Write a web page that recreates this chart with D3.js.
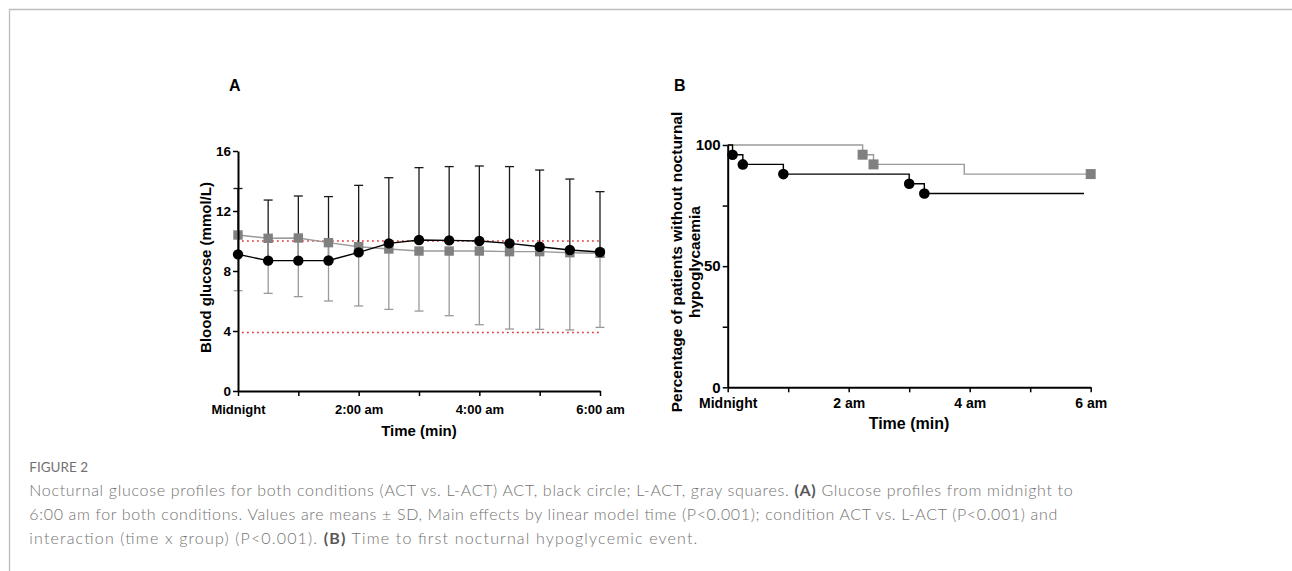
<!DOCTYPE html>
<html>
<head>
<meta charset="utf-8">
<script src="https://cdn.jsdelivr.net/npm/d3@7/dist/d3.min.js"></script>
<style>
  body { margin: 0; background: #fff; }
  .ejes path, .ejes line { stroke: #000; }
  .pie { font-family: Lato, "Open Sans", sans-serif; fill: #727272; font-weight: 300; }
</style>
</head>
<body>
<div id="dvBody"></div>
<script>
//datos panel A: media y extremo de la barra de error (mmol/L)
var horas = [0, 0.5, 1, 1.5, 2, 2.5, 3, 3.5, 4, 4.5, 5, 5.5, 6];
var actMedia = [9.11, 8.69, 8.69, 8.70, 9.24, 9.84, 10.07, 10.04, 10.0, 9.84, 9.62, 9.40, 9.27];
var actSuperior = [13.5, 12.73, 13.0, 12.96, 13.71, 14.22, 14.89, 14.96, 15.0, 14.96, 14.73, 14.13, 13.29];
var lactMedia = [10.4, 10.18, 10.2, 9.89, 9.62, 9.47, 9.33, 9.33, 9.33, 9.29, 9.29, 9.22, 9.18];
var lactInferior = [6.69, 6.51, 6.29, 6.0, 5.67, 5.44, 5.33, 5.02, 4.42, 4.13, 4.11, 4.07, 4.24];
var limites = [10, 3.9];

var ticksA = [0, 1, 2, 3, 4, 5, 6];
var etiquetasA = ["Midnight", "", "2:00 am", "", "4:00 am", "", "6:00 am"];
var ticksYA = [0, 4, 8, 12, 16];

//datos panel B: curvas de Kaplan-Meier (% sin hipoglucemia)
var kmActTiempo = [0, 0.08, 0.25, 0.92, 3.0, 3.25, 5.89];
var kmActValor = [100, 96, 92, 88, 84, 80, 80];
var kmLactTiempo = [0, 2.23, 2.41, 3.91, 6.0];
var kmLactValor = [100, 96, 92, 88, 88];
var marcasActTiempo = [0.08, 0.25, 0.92, 3.0, 3.25];
var marcasActValor = [96, 92, 88, 84, 80];
var marcasLactTiempo = [2.23, 2.41, 6.0];
var marcasLactValor = [96, 92, 88];

var ticksB = [0, 1, 2, 3, 4, 5, 6];
var etiquetasB = ["Midnight", "", "2 am", "", "4 am", "", "6 am"];
var ticksYB = [0, 25, 50, 75, 100];
var etiquetasYB = ["0", "", "50", "", "100"];

var fuente = "Arial, 'Liberation Sans', sans-serif";

var svg = d3.select("#dvBody")
  .append("svg")
  .attr("width", 1292)
  .attr("height", 571);

//marco gris de la figura
svg.append("path")
  .attr("d", "M9.5,571V9.5H1292")
  .attr("fill", "none")
  .attr("stroke", "#bdbdbd")
  .attr("stroke-width", 1.3);

//************* Panel A ******************/
var xA = d3.scaleLinear().domain([0, 6]).range([238, 600]);
var yA = d3.scaleLinear().domain([0, 16]).range([391, 151]);

//lineas de referencia rojas
svg.append("g")
  .selectAll("line")
  .data(limites)
  .join("line")
  .attr("x1", xA(0) + 4)
  .attr("x2", xA(6))
  .attr("y1", d => yA(d))
  .attr("y2", d => yA(d))
  .attr("stroke", "#e8393a")
  .attr("stroke-width", 1.6)
  .attr("stroke-dasharray", "1.8,3.2");

var datosA = horas.map(function(h, i) {
  return { h: h, act: actMedia[i], sup: actSuperior[i], lact: lactMedia[i], inf: lactInferior[i] };
});

//barras de error ACT (hacia arriba)
var errAct = svg.append("g").attr("stroke", "#1a1a1a").attr("stroke-width", 1.3);
errAct.selectAll(".v").data(datosA).join("line")
  .attr("x1", d => xA(d.h)).attr("x2", d => xA(d.h))
  .attr("y1", d => yA(d.act)).attr("y2", d => yA(d.sup));
errAct.selectAll(".c").data(datosA).join("line")
  .attr("x1", d => xA(d.h) - 4.5).attr("x2", d => xA(d.h) + 4.5)
  .attr("y1", d => yA(d.sup)).attr("y2", d => yA(d.sup));

//barras de error L-ACT (hacia abajo)
var errLact = svg.append("g").attr("stroke", "#9a9a9a").attr("stroke-width", 1.3);
errLact.selectAll(".v").data(datosA).join("line")
  .attr("x1", d => xA(d.h)).attr("x2", d => xA(d.h))
  .attr("y1", d => yA(d.lact)).attr("y2", d => yA(d.inf));
errLact.selectAll(".c").data(datosA).join("line")
  .attr("x1", d => xA(d.h) - 4.5).attr("x2", d => xA(d.h) + 4.5)
  .attr("y1", d => yA(d.inf)).attr("y2", d => yA(d.inf));

//lineas de medias
svg.append("path")
  .datum(datosA)
  .attr("fill", "none")
  .attr("stroke", "#9a9a9a")
  .attr("stroke-width", 1.4)
  .attr("d", d3.line().x(d => xA(d.h)).y(d => yA(d.lact)));

svg.append("path")
  .datum(datosA)
  .attr("fill", "none")
  .attr("stroke", "#000")
  .attr("stroke-width", 1.4)
  .attr("d", d3.line().x(d => xA(d.h)).y(d => yA(d.act)));

svg.append("g")
  .selectAll("rect")
  .data(datosA)
  .join("rect")
  .attr("x", d => xA(d.h) - 4.7)
  .attr("y", d => yA(d.lact) - 4.7)
  .attr("width", 9.4)
  .attr("height", 9.4)
  .attr("fill", "#808080");

svg.append("g")
  .selectAll("circle")
  .data(datosA)
  .join("circle")
  .attr("cx", d => xA(d.h))
  .attr("cy", d => yA(d.act))
  .attr("r", 5.2)
  .attr("fill", "#000");

//ejes panel A
svg.append("g")
  .attr("class", "ejes")
  .attr("transform", "translate(0,391)")
  .call(d3.axisBottom(xA).tickValues(ticksA).tickFormat((d, i) => etiquetasA[i])
    .tickSize(5).tickSizeOuter(0).tickPadding(9))
  .attr("font-family", fuente).attr("font-size", 13).attr("font-weight", "bold");

svg.append("g")
  .attr("class", "ejes")
  .attr("transform", "translate(238,0)")
  .call(d3.axisLeft(yA).tickValues(ticksYA).tickSize(5).tickSizeOuter(0).tickPadding(2))
  .attr("font-family", fuente).attr("font-size", 13.5).attr("font-weight", "bold");

svg.selectAll(".ejes .domain").attr("stroke-width", 2);
svg.selectAll(".ejes .tick line").attr("stroke-width", 1.5);

svg.append("text")
  .attr("x", 229).attr("y", 90.7)
  .attr("font-family", fuente).attr("font-weight", "bold").attr("font-size", 16)
  .text("A");

svg.append("text")
  .attr("x", 419).attr("y", 435.5)
  .attr("text-anchor", "middle")
  .attr("font-family", fuente).attr("font-weight", "bold").attr("font-size", 15)
  .text("Time (min)");

svg.append("text")
  .attr("transform", "translate(211,267.5) rotate(-90)")
  .attr("text-anchor", "middle")
  .attr("font-family", fuente).attr("font-weight", "bold").attr("font-size", 15)
  .text("Blood glucose (mmol/L)");

//************* Panel B ******************/
var xB = d3.scaleLinear().domain([0, 6]).range([727.7, 1090.7]);
var yB = d3.scaleLinear().domain([0, 100]).range([387.3, 145]);

var lineaKM = d3.line()
  .x(d => xB(d[0]))
  .y(d => yB(d[1]))
  .curve(d3.curveStepAfter);

svg.append("path")
  .datum(d3.zip(kmLactTiempo, kmLactValor))
  .attr("fill", "none")
  .attr("stroke", "#9a9a9a")
  .attr("stroke-width", 1.4)
  .attr("d", lineaKM);

svg.append("path")
  .datum(d3.zip(kmActTiempo, kmActValor))
  .attr("fill", "none")
  .attr("stroke", "#000")
  .attr("stroke-width", 1.4)
  .attr("d", lineaKM);

svg.append("g")
  .selectAll("rect")
  .data(d3.zip(marcasLactTiempo, marcasLactValor))
  .join("rect")
  .attr("x", d => xB(d[0]) - 5)
  .attr("y", d => yB(d[1]) - 5)
  .attr("width", 10)
  .attr("height", 10)
  .attr("fill", "#808080");

svg.append("g")
  .selectAll("circle")
  .data(d3.zip(marcasActTiempo, marcasActValor))
  .join("circle")
  .attr("cx", d => xB(d[0]))
  .attr("cy", d => yB(d[1]))
  .attr("r", 5.3)
  .attr("fill", "#000");

svg.append("g")
  .attr("class", "ejes ejesB")
  .attr("transform", "translate(0,387.3)")
  .call(d3.axisBottom(xB).tickValues(ticksB).tickFormat((d, i) => etiquetasB[i])
    .tickSize(5).tickSizeOuter(0).tickPadding(6))
  .attr("font-family", fuente).attr("font-size", 14).attr("font-weight", "bold");

svg.append("g")
  .attr("class", "ejes ejesB")
  .attr("transform", "translate(727.7,0)")
  .call(d3.axisLeft(yB).tickValues(ticksYB).tickFormat((d, i) => etiquetasYB[i])
    .tickSize(5).tickSizeOuter(0).tickPadding(2))
  .attr("font-family", fuente).attr("font-size", 15).attr("font-weight", "bold");

svg.selectAll(".ejesB .domain").attr("stroke-width", 2);
svg.selectAll(".ejesB .tick line").attr("stroke-width", 1.5);

svg.append("text")
  .attr("x", 674).attr("y", 90.7)
  .attr("font-family", fuente).attr("font-weight", "bold").attr("font-size", 16)
  .text("B");

svg.append("text")
  .attr("x", 909).attr("y", 428.5)
  .attr("text-anchor", "middle")
  .attr("font-family", fuente).attr("font-weight", "bold").attr("font-size", 16)
  .text("Time (min)");

var tituloB = svg.append("text")
  .attr("transform", "translate(681.7,262) rotate(-90)")
  .attr("text-anchor", "middle")
  .attr("font-family", fuente).attr("font-weight", "bold").attr("font-size", 15.5);
tituloB.append("tspan").attr("x", 0).attr("y", 0).text("Percentage of patients without nocturnal");
tituloB.append("tspan").attr("x", 0).attr("y", 18.3).text("hypoglycaemia");

//************* Pie de figura ******************/
svg.append("text")
  .attr("class", "pie")
  .attr("x", 29.3).attr("y", 472.3)
  .attr("font-size", 13.5)
  .attr("fill", "#666")
  .style("font-weight", 400)
  .text("FIGURE 2");

var lineasPie = [
  [["Nocturnal glucose profiles for both conditions (ACT vs. L-ACT) ACT, black circle; L-ACT, gray squares. ", false],
   ["(A)", true], [" Glucose profiles from midnight to", false]],
  [["6:00 am for both conditions. Values are means \u00B1 SD, Main effects by linear model time (P<0.001); condition ACT vs. L-ACT (P<0.001) and", false]],
  [["interaction (time x group) (P<0.001). ", false], ["(B)", true], [" Time to first nocturnal hypoglycemic event.", false]]
];
var anchosPie = [1043.4, 1028, 668];

lineasPie.forEach(function(linea, i) {
  var t = svg.append("text")
    .attr("class", "pie")
    .attr("x", 29.3)
    .attr("y", 495.7 + i * 24.3)
    .attr("font-size", 16)
    .attr("textLength", anchosPie[i])
    .attr("lengthAdjust", "spacing");
  linea.forEach(function(p) {
    t.append("tspan")
      .style("font-weight", p[1] ? 700 : null)
      .attr("fill", p[1] ? "#585858" : null)
      .text(p[0]);
  });
});
</script>
</body>
</html>
